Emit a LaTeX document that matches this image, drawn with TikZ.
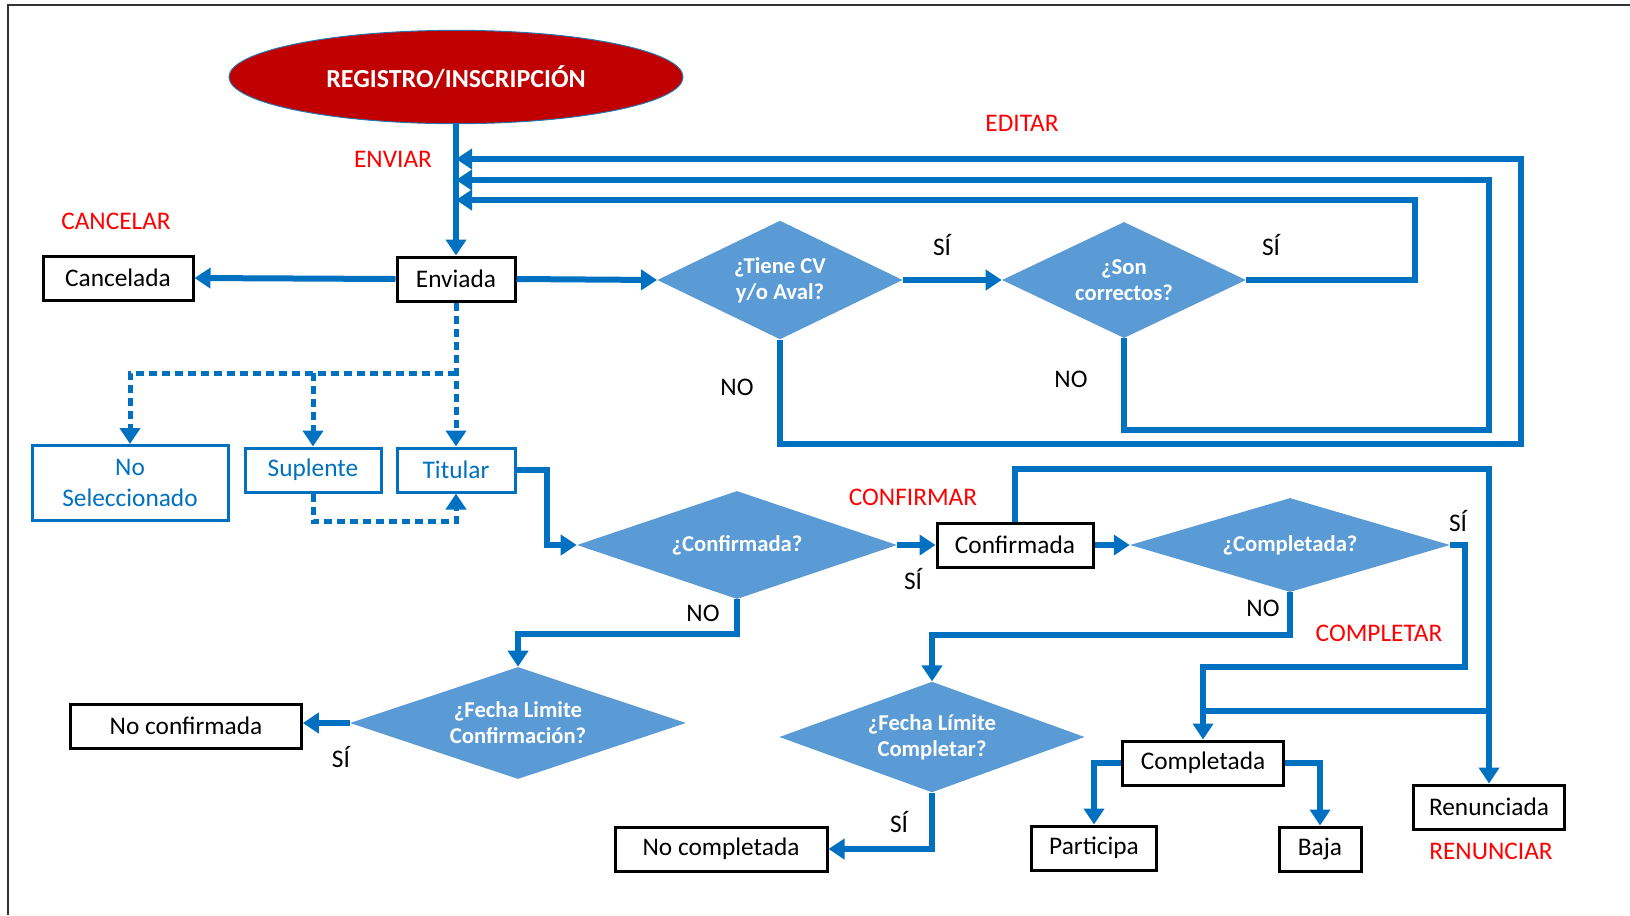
\documentclass[tikz,border=0pt]{standalone}
\usepackage{fontspec}
\setmainfont{Carlito}
\usetikzlibrary{arrows.meta,shapes.geometric}

\definecolor{lineblue}{HTML}{0070C0}
\definecolor{diablue}{HTML}{5B9BD5}
\definecolor{regred}{HTML}{C00000}
\definecolor{labred}{HTML}{FF0000}

\tikzset{
  conn/.style={draw=lineblue, line width=4.5pt, -{Triangle[length=12pt,width=15pt]}},
  plain/.style={draw=lineblue, line width=4.5pt},
  dotconn/.style={draw=lineblue, line width=3.75pt, dash pattern=on 6pt off 3.75pt, -{Triangle[length=12pt,width=15pt]}},
  state/.style={draw=black, line width=2.25pt, fill=white, minimum height=33pt, inner sep=0pt, align=center, font=\fontsize{19}{23}\selectfont},
  bluestate/.style={state, draw=lineblue, text=lineblue},
  question/.style={diamond, aspect=2.5, fill=diablue, inner sep=0pt, text=white, align=center, font=\bfseries\fontsize{17}{19.5}\selectfont},
  action/.style={text=labred, inner sep=0pt, font=\fontsize{19}{23}\selectfont},
  answer/.style={inner sep=0pt, font=\fontsize{19}{23}\selectfont},
}

\begin{document}
\begin{tikzpicture}[x=0.75pt,y=0.75pt,yscale=-1,xscale=1]
\useasboundingbox (0,0) rectangle (1630,915);

%Frame
\draw [color=black!80, line width=1.5pt] (1630,5) -- (8,5) -- (8,915);

% Start
\node [ellipse, fill=regred, draw=lineblue!70!gray, line width=0.75pt, minimum width=340.5pt, minimum height=70pt, inner sep=0pt, text=white, font=\bfseries\fontsize{19.5}{22}\selectfont] (reg) at (456,77) {REGISTRO/INSCRIPCIÓN};

% States
\node [state, minimum width=88.5pt] (env) at (456,279) {Enviada};
\node [state, minimum width=112.5pt] (can) at (118,278) {Cancelada};
\node [bluestate, minimum width=147pt, minimum height=56.25pt] (nosel) at (130,483) {No\\Seleccionado};
\node [bluestate, minimum width=102pt] (sup) at (313,470) {Suplente};
\node [bluestate, minimum width=88.5pt] (tit) at (456,470) {Titular};
\node [state, minimum width=117pt] (conf) at (1015,545) {Confirmada};
\node [state, minimum width=173pt] (noconf) at (186,726) {No confirmada};
\node [state, minimum width=159pt] (nocomp) at (721,849) {No completada};
\node [state, minimum width=121pt] (compl) at (1203,763) {Completada};
\node [state, minimum width=94pt] (part) at (1094,848) {Participa};
\node [state, minimum width=61.5pt] (baja) at (1320,849) {Baja};
\node [state, minimum width=113pt] (ren) at (1489,807) {Renunciada};

% Questions
\node [question, minimum width=184pt, minimum height=89pt] (cv) at (780,280) {¿Tiene CV\\y/o Aval?};
\node [question, minimum width=183pt, minimum height=87pt] (ok) at (1124,280) {¿Son\\correctos?};
\node [question, minimum width=240pt, minimum height=81pt] (qconf) at (737,545) {¿Confirmada?};
\node [question, minimum width=240pt, minimum height=70.5pt] (qcomp) at (1290,545) {¿Completada?};
\node [question, minimum width=252pt, minimum height=84pt] (fconf) at (518,723) {¿Fecha Limite\\Confirmación?};
\node [question, minimum width=229pt, minimum height=83pt] (fcomp) at (932,737) {¿Fecha Límite\\Completar?};

%Straight Lines
\draw [conn] (reg.south) -- (env.north);
\draw [conn] (env.west) -- (can.east);
\draw [conn] (env.east) -- (cv.west);
\draw [conn] (cv.east) -- (ok.west);

% Edit loops
\coordinate (edA) at (1415,200);
\coordinate (edB) at (1489,180);
\coordinate (edC) at (1521,159);
\draw [conn] (ok.east) -| (edA) -- (edA -| reg.south);
\draw [conn] (ok.south) -- ++(0,92) -| (edB) -- (edB -| reg.south);
\draw [conn] (cv.south) -- ++(0,104) -| (edC) -- (edC -| reg.south);

% Selection (dotted)
\coordinate (sel) at (456,373);
\draw [dotconn] (env.south) -- (tit.north);
\draw [dotconn] (sel) -| (nosel.north);
\draw [dotconn] (sup.north |- sel) -- (sup.north);
\draw [dotconn] (sup.south) -- ++(0,28) -| (tit.south);

% Confirmation
\draw [conn] (tit.east) -- ++(30,0) |- (qconf.west);
\draw [conn] (qconf.east) -- (conf.west);
\draw [conn] (qconf.south) -- ++(0,35) -| (fconf.north);
\draw [conn] (fconf.west) -- (fconf.west -| noconf.east);
\draw [conn] (conf.east) -- (qcomp.west);

% Completion
\draw [conn] (qcomp.south) -- ++(0,43) -| (fcomp.north);
\draw [conn] (fcomp.south) |- (nocomp.east);
\draw [conn] (qcomp.east) -- ++(15,0) -- ++(0,122) -| (compl.north);
\draw [conn] (conf.north) -- ++(0,-53) -| (ren.north);
\draw [plain] (compl.north |- 0,711) -- (ren.north |- 0,711);
\draw [conn] (compl.west) -| (part.north);
\draw [conn] (compl.east) -| (baja.north);

% Text Node
\node [action] (tenv) at (393,159) {ENVIAR};
\node [action] (tedit) at (1022,123) {EDITAR};
\node [action] (tcan) at (116,221) {CANCELAR};
\node [action] (tconf) at (913,497) {CONFIRMAR};
\node [action] (tcomp) at (1379,633) {COMPLETAR};
\node [action] (tren) at (1491,851) {RENUNCIAR};
% Text Node
\node [answer] (a1) at (942,245) {SÍ};
\node [answer] (a2) at (1271,245) {SÍ};
\node [answer] (a3) at (737,387) {NO};
\node [answer] (a4) at (1071,379) {NO};
\node [answer] (a5) at (913,579) {SÍ};
\node [answer] (a6) at (703,613) {NO};
\node [answer] (a7) at (341,757) {SÍ};
\node [answer] (a8) at (1263,608) {NO};
\node [answer] (a9) at (1458,521) {SÍ};
\node [answer] (a10) at (899,822) {SÍ};

\end{tikzpicture}
\end{document}
